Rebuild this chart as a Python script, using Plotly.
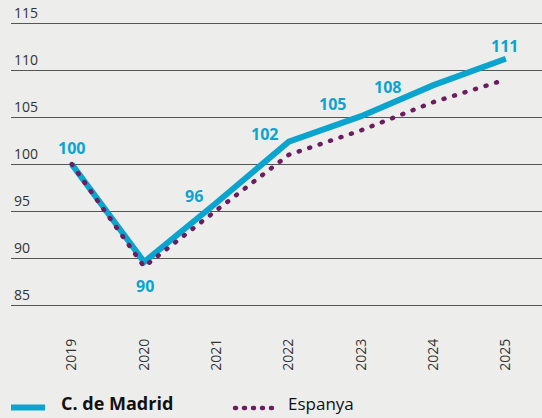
import plotly.graph_objects as go

years = [2019, 2020, 2021, 2022, 2023, 2024, 2025]
madrid = [100, 89.6, 95.9, 102.4, 105.1, 108.4, 111.2]
espanya = [100, 89.1, 95.1, 101.0, 103.6, 106.6, 109.0]
madrid_labels = ["100", "90", "96", "102", "105", "108", "111"]
y_ticks = [85, 90, 95, 100, 105, 110, 115]
series_names = ["C. de Madrid", "Espanya"]

BLUE = "#0aa4cf"
PURPLE = "#6b1d5f"
BG = "#edeeec"
FONT = "Open Sans"

W, H = 542, 418
ML, MR, MT, MB = 11, 0, 0, 108
PW, PH = W - ML - MR, H - MT - MB


def px_x(x):
    return (x - ML) / PW


def px_y(y):
    return (H - MB - y) / PH


# label offsets (px) relative to each Madrid point
label_dx = [0, 1, -22, -24, -29, -46, -1]
label_dy = [16, -24, 7, 8, 12, -2, 13]

fig = go.Figure()
fig.add_trace(go.Scatter(
    x=years, y=madrid, mode="lines", name=series_names[0],
    line=dict(color=BLUE, width=6),
))
fig.add_trace(go.Scatter(
    x=years, y=espanya, mode="lines", name=series_names[1],
    line=dict(color=PURPLE, width=4.5, dash="1px,10px"),
))

for x, y, t, dx, dy in zip(years, madrid, madrid_labels, label_dx, label_dy):
    fig.add_annotation(x=x, y=y, text=f"<b>{t}</b>", showarrow=False,
                       xshift=dx, yshift=dy,
                       font=dict(family=FONT, size=16, color=BLUE))

# manual legend
fig.add_shape(type="line", xref="paper", yref="paper",
              x0=px_x(11), x1=px_x(45), y0=px_y(407.5), y1=px_y(407.5),
              line=dict(color=BLUE, width=6))
fig.add_annotation(xref="paper", yref="paper", x=px_x(59), y=px_y(403),
                   xanchor="left", yanchor="middle", showarrow=False,
                   text=f"<b>{series_names[0]}</b>",
                   font=dict(family=FONT, size=18, color="#111111"))
fig.add_shape(type="line", xref="paper", yref="paper",
              x0=px_x(235), x1=px_x(277), y0=px_y(408), y1=px_y(408),
              line=dict(color=PURPLE, width=4.5, dash="1px,8px"))
fig.add_annotation(xref="paper", yref="paper", x=px_x(286), y=px_y(403),
                   xanchor="left", yanchor="middle", showarrow=False,
                   text=series_names[1],
                   font=dict(family=FONT, size=17, color="#111111"))

fig.update_layout(
    width=W, height=H,
    paper_bgcolor=BG, plot_bgcolor=BG,
    margin=dict(l=ML, r=MR, t=MT, b=MB),
    font=dict(family=FONT, size=14, color="#333333"),
    showlegend=False,
)
fig.update_xaxes(
    range=[2018.16, 2025.5], tickvals=years, ticktext=[str(y) for y in years],
    tickangle=-90, showgrid=False, zeroline=False, showline=False,
    ticks="", ticklabelstandoff=25,
    tickfont=dict(family=FONT, size=14, color="#333333"),
)
fig.update_yaxes(
    range=[84.5, 117.45], tickvals=y_ticks, showgrid=True, gridcolor="#555555",
    gridwidth=1.2, zeroline=False, showline=False, ticks="",
    ticklabelposition="inside top",
    tickfont=dict(family=FONT, size=14, color="#333333"),
)

post = """
document.body.style.margin='0';document.body.style.padding='0';document.body.style.overflow='hidden';
function roundDots(){
  document.querySelectorAll('path').forEach(function(p){
    var d = p.style.strokeDasharray || p.getAttribute('stroke-dasharray') || '';
    if (d && d.indexOf('1px') === 0) { p.style.strokeLinecap = 'round'; }
  });
}
roundDots(); setTimeout(roundDots, 50); setTimeout(roundDots, 300);
"""

fig.write_html("out.html", config={"displayModeBar": False}, post_script=post)
